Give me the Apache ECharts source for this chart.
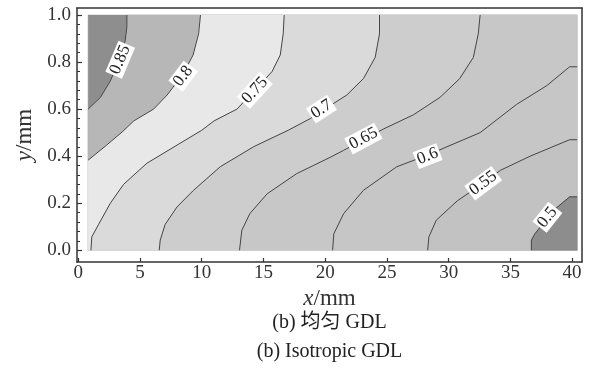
<!DOCTYPE html>
<html>
<head>
<meta charset="utf-8">
<script src="https://cdn.jsdelivr.net/npm/echarts@6.0.0/dist/echarts.min.js"></script>
<style>
  html, body { margin: 0; padding: 0; background: #fff; }
  #chart { width: 594px; height: 371px; }
</style>
</head>
<body>
<div id="chart"></div>
<script>
// Extent of the computed field (mm)
const xFill = [0.8, 40.4];
const yFill = [0, 1.0];

// Contour levels and the lines, [x mm, y mm]
const levels = [0.85, 0.8, 0.75, 0.7, 0.65, 0.6, 0.55, 0.5];
const levelText = ['0.85', '0.8', '0.75', '0.7', '0.65', '0.6', '0.55', '0.5'];

const c085 = [[0.8, 0.60], [1.8, 0.65], [2.6, 0.72], [3.4, 0.82], [3.8, 0.89], [3.94, 0.95], [3.94, 1.0]];
const c080 = [[0.8, 0.383], [2.3, 0.447], [3.6, 0.505], [4.5, 0.55], [6.1, 0.60], [7.2, 0.66], [8.5, 0.75], [9.3, 0.83], [9.75, 0.92], [9.9, 1.0]];
const c075 = [[1.03, 0], [1.1, 0.057], [1.65, 0.11], [2.6, 0.20], [3.67, 0.28], [5.56, 0.37], [8.0, 0.447], [10.0, 0.51], [11.0, 0.55], [12.85, 0.60], [14.3, 0.68], [15.7, 0.76], [16.36, 0.83], [16.6, 0.92], [16.68, 1.0]];
const c070 = [[6.56, 0], [6.64, 0.043], [7.04, 0.11], [8.0, 0.184], [9.34, 0.255], [11.5, 0.355], [14.2, 0.44], [17.0, 0.51], [18.8, 0.56], [20.7, 0.625], [21.75, 0.66], [23.1, 0.73], [24.05, 0.82], [24.4, 0.92], [24.4, 1.0]];
const c065 = [[13.06, 0], [13.25, 0.085], [13.9, 0.156], [15.3, 0.24], [17.7, 0.326], [20.4, 0.395], [21.5, 0.425], [24.7, 0.515], [27.15, 0.576], [29.3, 0.65], [30.9, 0.73], [32.0, 0.82], [32.4, 0.92], [32.55, 1.0]];
const c060 = [[20.6, 0], [20.7, 0.07], [21.5, 0.156], [23.1, 0.255], [25.8, 0.355], [28.3, 0.405], [32.55, 0.50], [35.5, 0.62], [37.95, 0.70], [39.8, 0.78], [40.4, 0.78]];
const c055 = [[28.3, 0], [28.4, 0.057], [29.0, 0.128], [30.7, 0.21], [32.8, 0.285], [34.2, 0.34], [36.6, 0.40], [39.8, 0.47], [40.4, 0.47]];
const c050 = [[36.7, 0], [36.7, 0.043], [37.0, 0.071], [38.5, 0.17], [39.8, 0.227], [40.4, 0.227]];

const contourLines = [c085, c080, c075, c070, c065, c060, c055, c050];

// Where the level labels sit on each line
const labelPoints = [[3.4, 0.81], [8.5, 0.74], [14.3, 0.68], [19.7, 0.60], [23.1, 0.475], [28.3, 0.40], [32.8, 0.285], [38.0, 0.14]];

// Tick values
const xTicks = [0, 5, 10, 15, 20, 25, 30, 35, 40];
const yTicks = [0, 0.2, 0.4, 0.6, 0.8, 1.0];
const yMinorTicks = [0.04, 0.08, 0.12, 0.16, 0.24, 0.28, 0.32, 0.36, 0.44, 0.48, 0.52, 0.56, 0.64, 0.68, 0.72, 0.76, 0.84, 0.88, 0.92, 0.96];

// Grey of each band, from the >0.85 corner to the <0.5 corner
const bandColors = ['#8e8e8e', '#b7b7b7', '#e8e8e8', '#dadada', '#cdcdcd', '#c7c7c7', '#c6c6c6', '#c2c2c2', '#8d8d8d'];

const serif = '"Liberation Serif", "Times New Roman", serif';

// Polygon of everything right of / below a contour line
function bandPolygon(line) {
  const pts = line.slice();
  const start = line[0];
  const end = line[line.length - 1];
  if (end[1] >= yFill[1]) pts.push([xFill[1], yFill[1]]);
  pts.push([xFill[1], yFill[0]]);
  if (start[0] <= xFill[0]) pts.push([xFill[0], yFill[0]]);
  return pts;
}

const bandPolys = [[[xFill[0], yFill[0]], [xFill[0], yFill[1]], [xFill[1], yFill[1]], [xFill[1], yFill[0]]]]
  .concat(contourLines.map(bandPolygon));

// Rotation of the line around a label, in screen space
function lineAngle(api, line, p) {
  const c = api.coord(p);
  let best = null;
  let bestD = Infinity;
  for (let i = 0; i < line.length - 1; i++) {
    const a = api.coord(line[i]);
    const b = api.coord(line[i + 1]);
    const mx = (a[0] + b[0]) / 2, my = (a[1] + b[1]) / 2;
    const d = (mx - c[0]) * (mx - c[0]) + (my - c[1]) * (my - c[1]);
    if (d < bestD) { bestD = d; best = [a, b]; }
  }
  let ang = Math.atan2(-(best[1][1] - best[0][1]), best[1][0] - best[0][0]);
  if (ang > Math.PI / 2) ang -= Math.PI;
  if (ang < -Math.PI / 2) ang += Math.PI;
  return ang;
}

const chart = echarts.init(document.getElementById('chart'), null, {renderer: 'canvas'});

const series = [{
  type: 'custom',
  z: 1,
  silent: true,
  clip: true,
  data: bandPolys.map((p, i) => [i]),
  renderItem: (params, api) => {
    const i = api.value(0);
    return {
      type: 'polygon',
      shape: {points: bandPolys[i].map(p => api.coord(p))},
      style: {fill: bandColors[i], stroke: bandColors[i], lineWidth: 0.5}
    };
  }
}];

contourLines.forEach((line) => {
  series.push({
    type: 'line',
    z: 2,
    silent: true,
    data: line,
    showSymbol: false,
    symbol: 'none',
    lineStyle: {color: '#454545', width: 1}
  });
});

series.push({
  type: 'custom',
  z: 3,
  silent: true,
  data: labelPoints.map((p, i) => [p[0], p[1], i]),
  renderItem: (params, api) => {
    const i = api.value(2);
    const p = [api.value(0), api.value(1)];
    const pos = api.coord(p);
    return {
      type: 'text',
      x: pos[0],
      y: pos[1],
      rotation: lineAngle(api, contourLines[i], p),
      style: {
        text: levelText[i],
        font: '17px ' + serif,
        fill: '#222',
        align: 'center',
        verticalAlign: 'middle',
        backgroundColor: '#fff',
        padding: [1, 2, 0, 2]
      }
    };
  }
});

const axisLine = {show: true, onZero: false, lineStyle: {color: '#333', width: 1.5}};

// Plot centre, used to centre the captions under the plot
const plotCentre = 77 + (594 - 77 - 12) / 2;

const option = {
  animation: false,
  backgroundColor: '#fff',
  grid: {left: 77, right: 12, top: 8, bottom: 109},
  graphic: [{
    type: 'text',
    x: plotCentre,
    y: 323,
    style: {
      text: '(b) 均匀 GDL',
      font: '20px ' + serif + ', "Noto Sans CJK SC"',
      fill: '#222',
      align: 'center',
      verticalAlign: 'middle'
    }
  }, {
    type: 'text',
    x: plotCentre,
    y: 352,
    style: {
      text: '(b) Isotropic GDL',
      font: '20px ' + serif,
      fill: '#222',
      align: 'center',
      verticalAlign: 'middle'
    }
  }],
  xAxis: [{
    type: 'value',
    position: 'bottom',
    min: -0.1,
    max: 40.8,
    axisLine: axisLine,
    axisTick: {show: true, inside: true, length: 4, customValues: xTicks, lineStyle: {color: '#333', width: 1.2}},
    axisLabel: {customValues: xTicks, fontFamily: serif, fontSize: 19, color: '#333', margin: 2},
    splitLine: {show: false},
    name: '{i|x}/mm',
    nameLocation: 'middle',
    nameGap: 19,
    nameTextStyle: {
      fontFamily: serif, fontSize: 23, color: '#333',
      rich: {i: {fontFamily: serif, fontSize: 23, fontStyle: 'italic', color: '#333'}}
    }
  }, {
    type: 'value',
    position: 'top',
    min: -0.1,
    max: 40.8,
    axisLine: axisLine,
    axisTick: {show: false},
    axisLabel: {show: false},
    splitLine: {show: false}
  }],
  yAxis: [{
    type: 'value',
    position: 'left',
    min: -0.05,
    max: 1.03,
    axisLine: axisLine,
    axisTick: {show: true, inside: true, length: 5, customValues: yTicks, lineStyle: {color: '#333', width: 1.2}},
    axisLabel: {
      customValues: yTicks, fontFamily: serif, fontSize: 19, color: '#333', margin: 6,
      formatter: v => v.toFixed(1)
    },
    splitLine: {show: false},
    name: '{i|y}/mm',
    nameLocation: 'middle',
    nameRotate: 90,
    nameGap: 37,
    nameTextStyle: {
      fontFamily: serif, fontSize: 23, color: '#333',
      rich: {i: {fontFamily: serif, fontSize: 23, fontStyle: 'italic', color: '#333'}}
    }
  }, {
    type: 'value',
    position: 'left',
    min: -0.05,
    max: 1.03,
    axisLine: {show: false, onZero: false},
    axisTick: {show: true, inside: true, length: 3, customValues: yMinorTicks, lineStyle: {color: '#333', width: 1}},
    axisLabel: {show: false},
    splitLine: {show: false}
  }, {
    type: 'value',
    position: 'right',
    min: -0.05,
    max: 1.03,
    axisLine: axisLine,
    axisTick: {show: false},
    axisLabel: {show: false},
    splitLine: {show: false}
  }],
  series: series
};

chart.setOption(option);
</script>
</body>
</html>
